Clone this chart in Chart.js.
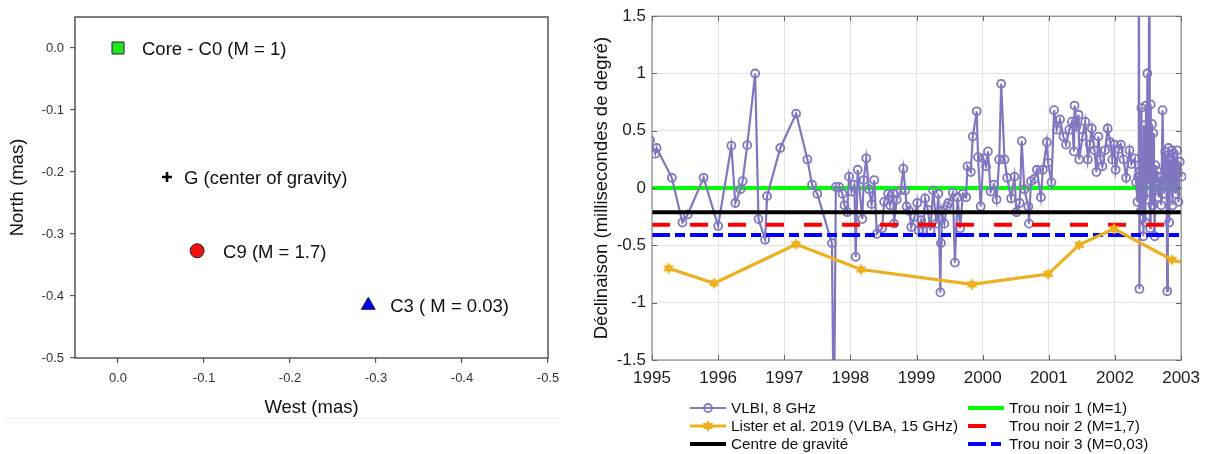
<!DOCTYPE html>
<html>
<head>
<meta charset="utf-8">
<script src="https://cdn.jsdelivr.net/npm/chart.js@4"></script>
<style>
  body { margin: 0; background: #fff; width: 1208px; height: 454px; position: relative; overflow: hidden; }
  #posChart { position: absolute; left: 0; top: 0; }
  #declChart { position: absolute; left: 580px; top: 0; }
  .sep { position: absolute; left: 5px; top: 418px; width: 555px; border-top: 1px solid #ececec; }
</style>
</head>
<body>
<canvas id="posChart" width="580" height="454"></canvas>
<div class="sep"></div>
<canvas id="declChart" width="628" height="454"></canvas>
<script>
// positions des composantes (mas)
const compNames = ['Core - C0 (M = 1)', 'G (center of gravity)', 'C9 (M = 1.7)', 'C3 ( M = 0.03)'];
const compWest = [0, -0.057, -0.092, -0.291];
const compNorth = [0, -0.208, -0.327, -0.415];

// déclinaison VLBI 8 GHz
const vlbiYears = [
  1994.97, 1995.05, 1995.07, 1995.30, 1995.46, 1995.54, 1995.78, 1996.00, 1996.20, 1996.26,
  1996.34, 1996.37, 1996.44, 1996.56, 1996.61, 1996.71, 1996.74, 1996.94, 1997.18, 1997.35,
  1997.42, 1997.50, 1997.72, 1997.75, 1997.78, 1997.83, 1997.88, 1997.91, 1997.95, 1997.98,
  1998.02, 1998.06, 1998.08, 1998.11, 1998.18, 1998.20, 1998.24, 1998.28, 1998.32, 1998.36,
  1998.40, 1998.48, 1998.51, 1998.57, 1998.60, 1998.65, 1998.66, 1998.70, 1998.76, 1998.80,
  1998.83, 1998.85, 1998.89, 1998.92, 1998.97, 1999.01, 1999.03, 1999.07, 1999.10, 1999.13,
  1999.17, 1999.21, 1999.25, 1999.30, 1999.33, 1999.36, 1999.37, 1999.38, 1999.42, 1999.46,
  1999.48, 1999.55, 1999.58, 1999.62, 1999.66, 1999.70, 1999.75, 1999.77, 1999.82, 1999.85,
  1999.91, 1999.93, 1999.97, 2000.01, 2000.05, 2000.08, 2000.12, 2000.17, 2000.21, 2000.25,
  2000.28, 2000.33, 2000.37, 2000.43, 2000.48, 2000.51, 2000.56, 2000.59, 2000.63, 2000.69,
  2000.70, 2000.73, 2000.78, 2000.82, 2000.88, 2000.91, 2000.97, 2000.99, 2001.04, 2001.08,
  2001.12, 2001.17, 2001.22, 2001.26, 2001.31, 2001.35, 2001.38, 2001.39, 2001.42, 2001.45,
  2001.46, 2001.51, 2001.55, 2001.59, 2001.62, 2001.65, 2001.69, 2001.72, 2001.75, 2001.78,
  2001.81, 2001.85, 2001.89, 2001.93, 2001.96, 2001.99, 2002.01, 2002.06, 2002.09, 2002.13,
  2002.17, 2002.22, 2002.25, 2002.30, 2002.32, 2002.34, 2002.35, 2002.36, 2002.37, 2002.38,
  2002.39, 2002.40, 2002.41, 2002.42, 2002.43, 2002.44, 2002.45, 2002.46, 2002.47, 2002.48,
  2002.49, 2002.50, 2002.51, 2002.52, 2002.53, 2002.54, 2002.55, 2002.56, 2002.57, 2002.58,
  2002.59, 2002.60, 2002.61, 2002.62, 2002.64, 2002.66, 2002.68, 2002.70, 2002.72, 2002.74,
  2002.76, 2002.78, 2002.79, 2002.80, 2002.81, 2002.82, 2002.84, 2002.85, 2002.86, 2002.87,
  2002.88, 2002.89, 2002.90, 2002.92, 2002.94, 2002.96, 2002.98, 2003.01
];
const vlbiDecl = [
  0.42, 0.30, 0.35, 0.09, -0.30, -0.23, 0.09, -0.33, 0.37, -0.13,
  -0.01, 0.06, 0.375, 1.00, -0.27, -0.45, -0.07, 0.35, 0.65, 0.25,
  0.03, -0.05, -0.48, -2.2, 0.01, 0.01, -0.05, -0.15, -0.21, 0.10,
  -0.03, 0.03, -0.60, 0.16, -0.27, 0.07, 0.26, -0.01, -0.14, 0.07,
  -0.40, -0.35, -0.12, -0.05, -0.15, -0.05, -0.31, -0.10, -0.02, 0.17,
  -0.02, -0.16, -0.20, -0.34, -0.25, -0.13, -0.37, -0.28, -0.37, -0.09,
  -0.19, -0.37, -0.02, -0.31, -0.05, -0.91, -0.48, -0.20, -0.31, -0.16,
  -0.13, -0.04, -0.65, -0.08, -0.35, -0.05, -0.08, 0.19, 0.14, 0.45,
  0.67, 0.27, -0.16, 0.26, 0.19, 0.32, -0.03, 0.03, -0.10, 0.25,
  0.91, 0.25, 0.09, -0.09, 0.10, -0.21, -0.13, 0.41, -0.01, -0.16,
  -0.31, 0.06, 0.08, 0.16, -0.08, 0.16, 0.40, 0.22, 0.05, 0.68,
  0.51, 0.60, 0.45, 0.38, 0.51, 0.58, 0.32, 0.72, 0.54, 0.64,
  0.25, 0.45, 0.58, 0.25, 0.38, 0.52, 0.33, 0.14, 0.45, 0.25,
  0.19, 0.33, 0.52, 0.40, 0.25, 0.38, 0.16, 0.34, 0.38, 0.25,
  0.09, 0.33, 0.21, 0.26, 0.05, -0.12, 0.10, 2.8, -0.88, 0.15,
  -0.20, 0.70, -0.05, 0.30, -0.42, 0.55, 0.20, -0.30, 0.72, -0.10,
  1.00, 0.05, 0.30, 2.8, -0.35, 0.73, 0.10, 0.56, -0.15, 0.48,
  0.00, -0.42, 0.20, 0.05, 0.15, -0.08, 0.10, -0.15, 0.68, -0.05,
  0.32, 0.10, -0.90, 0.25, 0.35, -0.30, 0.25, 0.10, 0.33, -0.15,
  0.30, 0.00, 0.22, -0.05, 0.33, -0.12, 0.23, 0.10
];

// Lister et al. 2019, VLBA 15 GHz
const listerYears = [1995.25, 1995.94, 1997.18, 1998.16, 1999.84, 2000.99, 2001.46, 2001.985, 2002.86, 2003.3];
const listerDecl = [-0.70, -0.83, -0.49, -0.71, -0.84, -0.75, -0.495, -0.356, -0.625, -0.69];

// niveaux horizontaux : centre de gravité et trous noirs
const centreLevel = -0.21;
const holeLevels = [0, -0.32, -0.41];

const legendLabels = [
  'VLBI, 8 GHz', 'Lister et al. 2019 (VLBA, 15 GHz)', 'Centre de gravité',
  'Trou noir 1 (M=1)', 'Trou noir 2 (M=1,7)', 'Trou noir 3 (M=0,03)'
];

Chart.defaults.font.family = '"Liberation Sans", Arial, Helvetica, sans-serif';
Chart.defaults.animation = false;
Chart.defaults.plugins.legend.display = false;
Chart.defaults.plugins.tooltip.enabled = false;

const fmt1 = v => Math.abs(v) < 1e-9 ? '0.0' : v.toFixed(1);

// cadre complet autour de la zone de tracé
const frame = (color, width) => ({
  id: 'frame',
  afterDraw(chart) {
    const {ctx, chartArea: a} = chart;
    ctx.save();
    ctx.strokeStyle = color;
    ctx.lineWidth = width;
    ctx.strokeRect(a.left, a.top, a.right - a.left, a.bottom - a.top);
    ctx.restore();
  }
});

const labelGap = [24, 17, 26, 22];
const pointLabels = {
  id: 'pointLabels',
  afterDatasetsDraw(chart) {
    const ctx = chart.ctx;
    const meta = chart.getDatasetMeta(0);
    ctx.save();
    ctx.font = '18.5px "Liberation Sans", Arial, sans-serif';
    ctx.fillStyle = '#111';
    ctx.textBaseline = 'middle';
    meta.data.forEach((pt, i) => ctx.fillText(compNames[i], pt.x + labelGap[i], pt.y + 2));
    ctx.restore();
  }
};

const renderPositions = () => {
  const data = {
    datasets: [{
      data: compWest.map((w, i) => ({x: w, y: compNorth[i]})),
      pointStyle: ['rect', 'cross', 'circle', 'triangle'],
      pointRadius: [8.5, 5, 7, 8],
      pointBackgroundColor: ['#22e622', '#000', '#f01010', '#0000ff'],
      pointBorderColor: ['#222', '#000', '#222', '#222'],
      pointBorderWidth: [1, 2.6, 1, 1],
      clip: false
    }]
  };
  new Chart('posChart', {
    type: 'scatter',
    data,
    options: {
      responsive: false,
      devicePixelRatio: 1,
      layout: {padding: {top: 17, right: 32, bottom: 34, left: 0}},
      scales: {
        x: {
          reverse: true, min: -0.5, max: 0.05,
          afterFit: s => { s.height = 62; },
          border: {display: false},
          grid: {drawOnChartArea: false, drawTicks: true, tickLength: 5, color: '#555', lineWidth: 1.2},
          ticks: {stepSize: 0.1, includeBounds: false, padding: 8, color: '#333', font: {size: 13}, callback: fmt1},
          title: {display: true, text: 'West (mas)', color: '#111', font: {size: 18.5}, padding: {top: 0, bottom: 1}}
        },
        y: {
          min: -0.5, max: 0.05,
          afterFit: s => { s.width = 75; },
          border: {display: false},
          grid: {drawOnChartArea: false, drawTicks: true, tickLength: 5, color: '#555', lineWidth: 1.2},
          ticks: {stepSize: 0.1, includeBounds: false, padding: 6, color: '#333', font: {size: 13}, callback: fmt1},
          title: {display: true, text: 'North (mas)', color: '#111', font: {size: 18.5}, padding: {top: 7, bottom: 0}}
        }
      }
    },
    plugins: [frame('#555', 1.5), pointLabels]
  });
};

// étoile à six branches pour la série Lister
const makeHexagram = (r, color) => {
  const c = document.createElement('canvas');
  const s = Math.ceil(r * 2 + 2);
  c.width = c.height = s;
  const g = c.getContext('2d');
  g.fillStyle = color;
  g.beginPath();
  for (let i = 0; i < 12; i++) {
    const a = -Math.PI / 2 + i * Math.PI / 6;
    const rr = i % 2 ? r * 0.58 : r;
    const px = s / 2 + Math.cos(a) * rr, py = s / 2 + Math.sin(a) * rr;
    if (i === 0) g.moveTo(px, py); else g.lineTo(px, py);
  }
  g.closePath();
  g.fill();
  return c;
};
const star = makeHexagram(6, '#edb120');

// petites graduations vers l'intérieur sur les quatre côtés
const innerTicks = {
  id: 'innerTicks',
  afterDraw(chart) {
    const {ctx, chartArea: a, scales: {x, y}} = chart;
    ctx.save();
    ctx.strokeStyle = '#666';
    ctx.lineWidth = 1;
    ctx.beginPath();
    x.ticks.forEach(t => {
      const px = Math.round(x.getPixelForValue(t.value)) + 0.5;
      ctx.moveTo(px, a.bottom); ctx.lineTo(px, a.bottom - 5);
      ctx.moveTo(px, a.top); ctx.lineTo(px, a.top + 5);
    });
    y.ticks.forEach(t => {
      const py = Math.round(y.getPixelForValue(t.value)) + 0.5;
      ctx.moveTo(a.left, py); ctx.lineTo(a.left + 5, py);
      ctx.moveTo(a.right, py); ctx.lineTo(a.right - 5, py);
    });
    ctx.stroke();
    ctx.restore();
  }
};

// légende sur deux colonnes sous le graphique
const twoColLegend = {
  id: 'twoColLegend',
  afterDraw(chart) {
    const ctx = chart.ctx;
    const cols = [110, 388];
    const rows = [408, 426, 444];
    ctx.save();
    ctx.font = '15.3px "Liberation Sans", Arial, sans-serif';
    ctx.textBaseline = 'middle';
    chart.data.datasets.forEach((ds, i) => {
      const x0 = cols[Math.floor(i / 3)], yy = rows[i % 3];
      ctx.strokeStyle = ds.borderColor;
      ctx.lineWidth = ds.borderWidth;
      ctx.setLineDash(ds.borderDash || []);
      ctx.lineCap = 'butt';
      ctx.beginPath();
      ctx.moveTo(x0, yy); ctx.lineTo(x0 + 36, yy);
      ctx.stroke();
      ctx.setLineDash([]);
      if (ds.pointStyle === 'circle') {
        ctx.lineWidth = ds.pointBorderWidth;
        ctx.beginPath();
        ctx.arc(x0 + 18, yy, ds.pointRadius, 0, Math.PI * 2);
        ctx.stroke();
      } else if (ds.pointStyle === star) {
        ctx.drawImage(star, x0 + 18 - star.width / 2, yy - star.height / 2);
      }
      ctx.fillStyle = '#111';
      ctx.fillText(ds.label, x0 + 41, yy + 1);
    });
    ctx.restore();
  }
};

const level = v => [{x: 1995, y: v}, {x: 2003, y: v}];

const renderDeclination = () => {
  const data = {
    datasets: [
      {label: legendLabels[0], data: vlbiYears.map((t, i) => ({x: t, y: vlbiDecl[i]})),
        showLine: true, borderColor: '#7f78c0', borderWidth: 2.2, pointStyle: 'circle',
        pointRadius: 4, pointBorderWidth: 1.8, pointBackgroundColor: 'rgba(0,0,0,0)',
        pointBorderColor: '#7f78c0', order: 5, clip: {left: 0, top: 0, right: 5, bottom: 0}},
      {label: legendLabels[1], data: listerYears.map((t, i) => ({x: t, y: listerDecl[i]})),
        showLine: true, borderColor: '#edb120', borderWidth: 3.2, pointStyle: star,
        pointRadius: 6, order: 1, clip: 0},
      {label: legendLabels[2], data: level(centreLevel), showLine: true, borderColor: '#000',
        borderWidth: 4, pointRadius: 0, order: 4, clip: 0},
      {label: legendLabels[3], data: level(holeLevels[0]), showLine: true, borderColor: '#00ff00',
        borderWidth: 4, pointRadius: 0, order: 6, clip: 0},
      {label: legendLabels[4], data: level(holeLevels[1]), showLine: true, borderColor: '#ff0000',
        borderWidth: 4, borderDash: [18, 20], pointRadius: 0, order: 3, clip: 0},
      {label: legendLabels[5], data: level(holeLevels[2]), showLine: true, borderColor: '#0000ff',
        borderWidth: 4, borderDash: [18, 5, 10, 5], pointRadius: 0, order: 2, clip: 0}
    ]
  };
  new Chart('declChart', {
    type: 'scatter',
    data,
    options: {
      responsive: false,
      devicePixelRatio: 1,
      layout: {padding: {top: 16, right: 20, bottom: 64, left: 0}},
      scales: {
        x: {
          min: 1995, max: 2003,
          afterFit: s => { s.height = 30; },
          border: {display: false},
          grid: {color: '#e3e3e3', drawTicks: false},
          ticks: {stepSize: 1, padding: 8, color: '#222', font: {size: 17}, callback: v => String(v)}
        },
        y: {
          min: -1.5, max: 1.5,
          afterFit: s => { s.width = 72; },
          border: {display: false},
          grid: {color: '#e3e3e3', drawTicks: false},
          ticks: {stepSize: 0.5, padding: 6, color: '#222', font: {size: 17}, callback: v => String(v)},
          title: {display: true, text: 'Déclinaison (millisecondes de degré)', color: '#111',
            font: {size: 18.5}, padding: {top: 11, bottom: 0}}
        }
      }
    },
    plugins: [frame('#777', 1), innerTicks, twoColLegend]
  });
};

renderPositions();
renderDeclination();
</script>
</body>
</html>
